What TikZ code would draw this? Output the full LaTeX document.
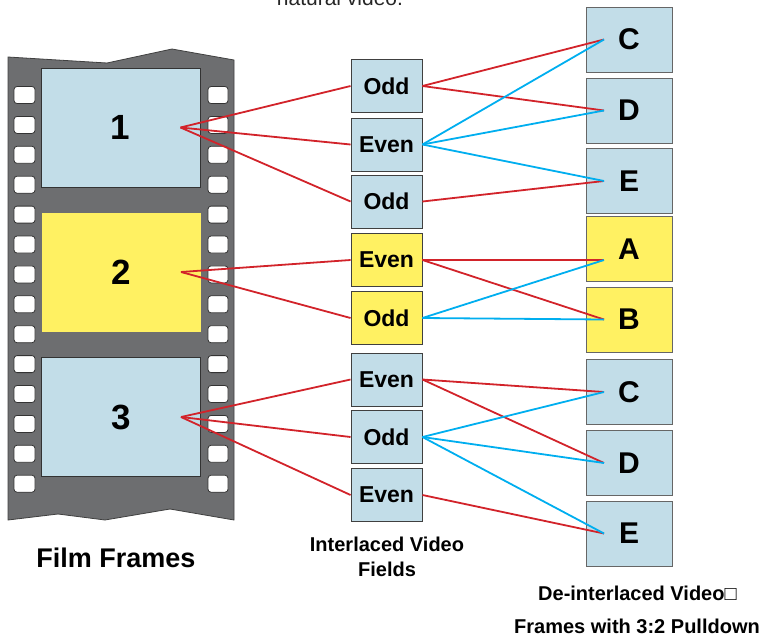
\documentclass[tikz,border=0pt]{standalone}
\usepackage{fontspec}
\setmainfont{Liberation Sans}
\usetikzlibrary{calc}
\definecolor{filmgray}{RGB}{109,110,112}
\definecolor{frameblue}{RGB}{194,221,232}
\definecolor{frameyellow}{RGB}{255,241,98}
\definecolor{linered}{RGB}{210,35,42}
\definecolor{lineblue}{RGB}{0,174,239}

\begin{document}
\begin{tikzpicture}[x=1pt,y=-1pt,
  filmframe/.style={draw=black!80,line width=0.8pt,minimum width=159pt,minimum height=119pt,inner sep=0pt,font=\bfseries\fontsize{35}{40}\selectfont},
  field/.style={draw=black!75,line width=0.9pt,minimum width=71pt,minimum height=53pt,inner sep=0pt,font=\bfseries\fontsize{23}{27}\selectfont},
  outframe/.style={draw=black!60,line width=0.9pt,minimum width=86pt,minimum height=65pt,inner sep=0pt,font=\bfseries\fontsize{30}{34}\selectfont},
  hole/.style={draw=black!80,fill=white,line width=0.8pt,rounded corners=3pt},
  redline/.style={linered,line width=1.8pt},
  blueline/.style={lineblue,line width=1.8pt},
  caption/.style={font=\bfseries\fontsize{20}{25}\selectfont,align=center,inner sep=0pt}]
\useasboundingbox (0,0) rectangle (760,638);
% film strip
\draw[fill=filmgray,draw=black!75,line width=0.8pt] (8,57) -- (107,63) -- (172,49) -- (234,60) -- (234,520) -- (170,509) -- (105,520) -- (58,514) -- (8,520) -- cycle;
\foreach \i in {0,...,13}{
  \draw[hole] (14,{86.5+29.9*\i}) rectangle (35,{103.5+29.9*\i});
  \draw[hole] (208,{86.5+29.9*\i}) rectangle (228,{103.5+29.9*\i});
}
\node[filmframe,fill=frameblue] (f1) at (120.5,127.5) {1};
\node[filmframe,fill=frameyellow,draw=none] (f2) at (121,272) {2};
\node[filmframe,fill=frameblue] (f3) at (121,417) {3};
% interlaced fields
\node[field,fill=frameblue] (odd1) at (386.5,86) {Odd};
\node[field,fill=frameblue] (even1) at (386.5,144.5) {Even};
\node[field,fill=frameblue] (odd2) at (386.5,201.5) {Odd};
\node[field,fill=frameyellow] (even2) at (386.5,260) {Even};
\node[field,fill=frameyellow] (odd3) at (386.5,318) {Odd};
\node[field,fill=frameblue] (even3) at (386.5,379.5) {Even};
\node[field,fill=frameblue] (odd4) at (386.5,437) {Odd};
\node[field,fill=frameblue] (even4) at (386.5,495) {Even};
% de-interlaced frames
\node[outframe,fill=frameblue] (c1) at (629,39.5) {C};
\node[outframe,fill=frameblue] (d1) at (629,110.5) {D};
\node[outframe,fill=frameblue] (e1) at (629,181) {E};
\node[outframe,fill=frameyellow] (a) at (629,249) {A};
\node[outframe,fill=frameyellow] (b) at (629,319.5) {B};
\node[outframe,fill=frameblue] (c2) at (629,392) {C};
\node[outframe,fill=frameblue] (d2) at (629,463) {D};
\node[outframe,fill=frameblue] (e2) at (629,533.5) {E};
\foreach \n in {c1,d1,e1,b,c2,d2,e2}
  \coordinate (\n p) at ([xshift=-25pt]\n.center);
\coordinate (ap) at ([xshift=-25pt,yshift=-11pt]a.center);
% connectors
\foreach \f in {odd1,even1,odd2}
  \draw[redline] ([xshift=60pt]f1.center) -- (\f.west);
\foreach \f in {even2,odd3}
  \draw[redline] ([xshift=60pt]f2.center) -- (\f.west);
\foreach \f in {even3,odd4,even4}
  \draw[redline] ([xshift=60pt]f3.center) -- (\f.west);
\foreach \s/\t in {odd1/c1,odd1/d1,odd2/e1,even2/a,even2/b,even3/c2,even3/d2,even4/e2}
  \draw[redline] (\s.east) -- (\t p);
\foreach \s/\t in {even1/c1,even1/d1,even1/e1,odd3/a,odd3/b,odd4/c2,odd4/d2,odd4/e2}
  \draw[blueline] (\s.east) -- (\t p);
% captions
\node[font=\fontsize{21}{25}\selectfont,anchor=base,text=black!85] (toptext) at (340,5) {natural video.};
\node[caption,font=\bfseries\fontsize{27}{30}\selectfont] (filmcap) at (116,558) {Film Frames};
\node[caption] (fieldcap) at (387,557) {Interlaced Video\\Fields};
\node[caption,anchor=west] (outcap1) at (538,593) {De-interlaced Video□};
\node[caption,anchor=east] (outcap2) at (760,626) {Frames with 3:2 Pulldown};
\end{tikzpicture}
\end{document}
